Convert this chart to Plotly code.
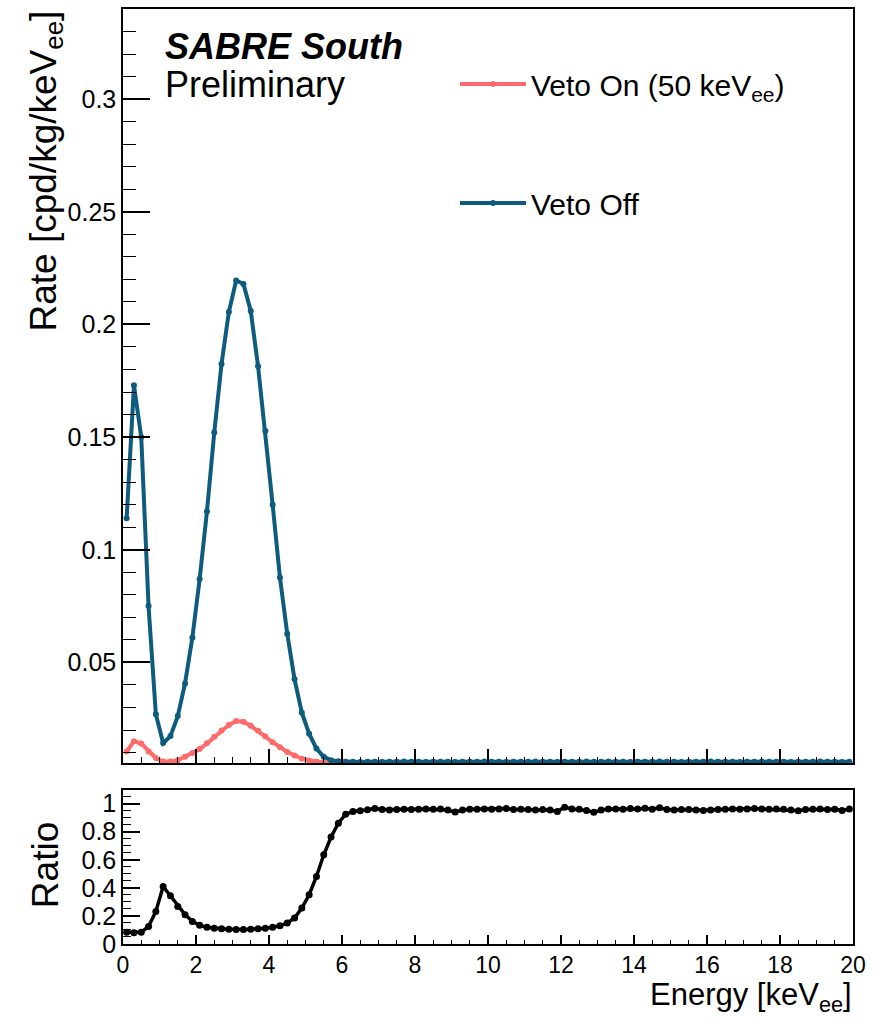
import numpy as np
import plotly.graph_objects as go
from plotly.subplots import make_subplots

# Energy bin centres (0.2 keV bins from 0 to 20 keV)
energy = [round(0.1 + 0.2 * i, 1) for i in range(100)]

veto_off = [
    0.1140, 0.1730, 0.1500, 0.0750, 0.0270, 0.0142, 0.0173, 0.0262, 0.0407, 0.0610,
    0.0870, 0.1170, 0.1520, 0.1825, 0.2055, 0.2195, 0.2180, 0.2060, 0.1815, 0.1527,
    0.1200, 0.0877, 0.0627, 0.0425, 0.0277, 0.0184, 0.0118, 0.0081, 0.0066, 0.0061,
    0.0059, 0.0059, 0.0058, 0.0059, 0.0059, 0.0058, 0.0059, 0.0059, 0.0060, 0.0059,
    0.0059, 0.0058, 0.0059, 0.0059, 0.0059, 0.0058, 0.0059, 0.0059, 0.0059, 0.0060,
    0.0059, 0.0059, 0.0058, 0.0059, 0.0059, 0.0059, 0.0060, 0.0059, 0.0059, 0.0058,
    0.0059, 0.0059, 0.0059, 0.0060, 0.0059, 0.0059, 0.0060, 0.0059, 0.0059, 0.0058,
    0.0059, 0.0059, 0.0059, 0.0060, 0.0059, 0.0059, 0.0058, 0.0059, 0.0059, 0.0059,
    0.0060, 0.0059, 0.0059, 0.0059, 0.0058, 0.0059, 0.0059, 0.0060, 0.0059, 0.0059,
    0.0059, 0.0058, 0.0059, 0.0059, 0.0059, 0.0060, 0.0059, 0.0059, 0.0058, 0.0059,
]

veto_on = [
    0.0105, 0.0150, 0.0140, 0.0105, 0.0076, 0.0060, 0.0060, 0.0066, 0.0082, 0.0098,
    0.0116, 0.0141, 0.0170, 0.0198, 0.0222, 0.0240, 0.0237, 0.0219, 0.0197, 0.0171,
    0.0146, 0.0124, 0.0103, 0.0087, 0.0073, 0.0065, 0.0060, 0.0055, 0.0053, 0.0053,
    0.0054, 0.0055, 0.0056, 0.0057, 0.0057, 0.0057, 0.0056, 0.0057, 0.0057, 0.0057,
    0.0057, 0.0056, 0.0057, 0.0057, 0.0057, 0.0056, 0.0057, 0.0057, 0.0057, 0.0057,
    0.0057, 0.0057, 0.0056, 0.0057, 0.0057, 0.0057, 0.0057, 0.0057, 0.0057, 0.0056,
    0.0057, 0.0057, 0.0057, 0.0057, 0.0057, 0.0057, 0.0057, 0.0057, 0.0057, 0.0056,
    0.0057, 0.0057, 0.0057, 0.0057, 0.0057, 0.0057, 0.0056, 0.0057, 0.0057, 0.0057,
    0.0057, 0.0057, 0.0057, 0.0057, 0.0056, 0.0057, 0.0057, 0.0057, 0.0057, 0.0057,
    0.0057, 0.0056, 0.0057, 0.0057, 0.0057, 0.0057, 0.0057, 0.0057, 0.0056, 0.0057,
]

ratio = [
    0.083, 0.080, 0.083, 0.125, 0.232, 0.410, 0.344, 0.268, 0.209, 0.161,
    0.133, 0.120, 0.113, 0.108, 0.106, 0.103, 0.103, 0.106, 0.108, 0.113,
    0.120, 0.130, 0.150, 0.185, 0.256, 0.351, 0.481, 0.636, 0.762, 0.861,
    0.925, 0.944, 0.950, 0.956, 0.965,
    0.958, 0.955, 0.958, 0.960, 0.958, 0.960, 0.962, 0.960, 0.962, 0.955,
    0.940, 0.955, 0.960, 0.960, 0.962, 0.960, 0.962, 0.965, 0.958, 0.960,
    0.958, 0.955, 0.958, 0.955, 0.945, 0.975, 0.962, 0.960, 0.952, 0.938,
    0.955, 0.962, 0.962, 0.960, 0.965, 0.962, 0.968, 0.960, 0.970, 0.958,
    0.955, 0.958, 0.958, 0.955, 0.952, 0.955, 0.958, 0.960, 0.962, 0.960,
    0.962, 0.965, 0.962, 0.960, 0.962, 0.960, 0.955, 0.950, 0.958, 0.960,
    0.962, 0.958, 0.960, 0.952, 0.962,
]

assert len(energy) == len(veto_off) == len(veto_on) == len(ratio) == 100

BLUE = "#0d5b7d"
RED = "#ff6b6b"
FONT = "Liberation Sans"

W, H = 887, 1018
ML, MR, MT, MB = 123, 34, 7, 74
plot_h = H - MT - MB
plot_w = W - ML - MR

def py(pix):  # pixel y from top -> paper y
    return (H - MB - pix) / plot_h

def px(pix):  # pixel x from left -> paper x
    return (pix - ML) / plot_w

fig = make_subplots(rows=2, cols=1, shared_xaxes=False, vertical_spacing=0)

fig.add_trace(go.Scatter(
    x=energy, y=veto_on, mode="lines+markers", name="Veto On (50 keV<sub>ee</sub>)",
    line=dict(color=RED, width=4), marker=dict(color=RED, size=6),
    legendgroup="on"), row=1, col=1)
fig.add_trace(go.Scatter(
    x=energy, y=veto_off, mode="lines+markers", name="Veto Off",
    line=dict(color=BLUE, width=4), marker=dict(color=BLUE, size=6),
    legendgroup="off"), row=1, col=1)
fig.add_trace(go.Scatter(
    x=energy, y=ratio, mode="lines+markers", name="Ratio", showlegend=False,
    line=dict(color="black", width=3.5), marker=dict(color="black", size=7)),
    row=2, col=1)

top_dom = [py(763), 1.0]
bot_dom = [0.0, py(790)]

TICKFONT = dict(family=FONT, size=25, color="black")
axis_common = dict(showline=True, linecolor="black", linewidth=1.5, mirror=True,
                   showgrid=False, zeroline=False, ticks="inside", tickcolor="black",
                   tickfont=TICKFONT)

fig.update_layout(
    width=W, height=H,
    margin=dict(l=ML, r=MR, t=MT, b=MB),
    paper_bgcolor="white", plot_bgcolor="white",
    font=dict(family=FONT, color="black"),
    xaxis=dict(domain=[0, 1], range=[0, 20], dtick=2, tick0=0, ticklen=15, tickwidth=1.5,
               showticklabels=False,
               minor=dict(dtick=0.5, ticklen=7, ticks="inside", tickcolor="black", tickwidth=1.2),
               **axis_common),
    yaxis=dict(domain=top_dom, range=[0.0052, 0.340], dtick=0.05, tick0=0, ticklen=27, tickwidth=1.5,
               minor=dict(dtick=0.01, ticklen=13, ticks="inside", tickcolor="black", tickwidth=1.2),
               **axis_common),
    xaxis2=dict(domain=[0, 1], range=[0, 20], dtick=2, tick0=0, ticklen=9, tickwidth=1.5,
                minor=dict(dtick=0.5, ticklen=4, ticks="inside", tickcolor="black", tickwidth=1.2),
                showline=True, linecolor="black", linewidth=1.5, mirror=True,
                showgrid=False, zeroline=False, ticks="inside", tickcolor="black",
                tickfont=dict(family=FONT, size=23, color="black")),
    yaxis2=dict(domain=bot_dom, range=[0, 1.095], dtick=0.2, tick0=0, ticklen=17, tickwidth=1.5,
                minor=dict(dtick=0.05, ticklen=8, ticks="inside", tickcolor="black", tickwidth=1.2),
                **axis_common),
    legend=dict(x=px(455), y=py(56), xanchor="left", yanchor="top",
                font=dict(family=FONT, size=30, color="black"),
                bgcolor="rgba(0,0,0,0)", tracegroupgap=77, itemwidth=66),
    showlegend=True,
)

annotations = [
    dict(text="Rate [cpd/kg/keV<sub>ee</sub>]", textangle=-90, x=px(45), y=1.0,
         xref="paper", yref="paper", xanchor="center", yanchor="top", showarrow=False,
         font=dict(family=FONT, size=37, color="black")),
    dict(text="Ratio", textangle=-90, x=px(45), y=py(865),
         xref="paper", yref="paper", xanchor="center", yanchor="middle", showarrow=False,
         font=dict(family=FONT, size=37, color="black")),
    dict(text="Energy [keV<sub>ee</sub>]", x=1.0, y=py(1018),
         xref="paper", yref="paper", xanchor="right", yanchor="bottom", showarrow=False,
         borderpad=0, font=dict(family=FONT, size=31, color="black")),
    dict(text="<b><i>SABRE South</i></b>", x=px(163), y=py(45),
         xref="paper", yref="paper", xanchor="left", yanchor="middle", showarrow=False,
         font=dict(family=FONT, size=36, color="black")),
    dict(text="Preliminary", x=px(163), y=py(83),
         xref="paper", yref="paper", xanchor="left", yanchor="middle", showarrow=False,
         font=dict(family=FONT, size=36, color="black")),
]
fig.update_layout(annotations=annotations)

fig.write_html("out.html")
